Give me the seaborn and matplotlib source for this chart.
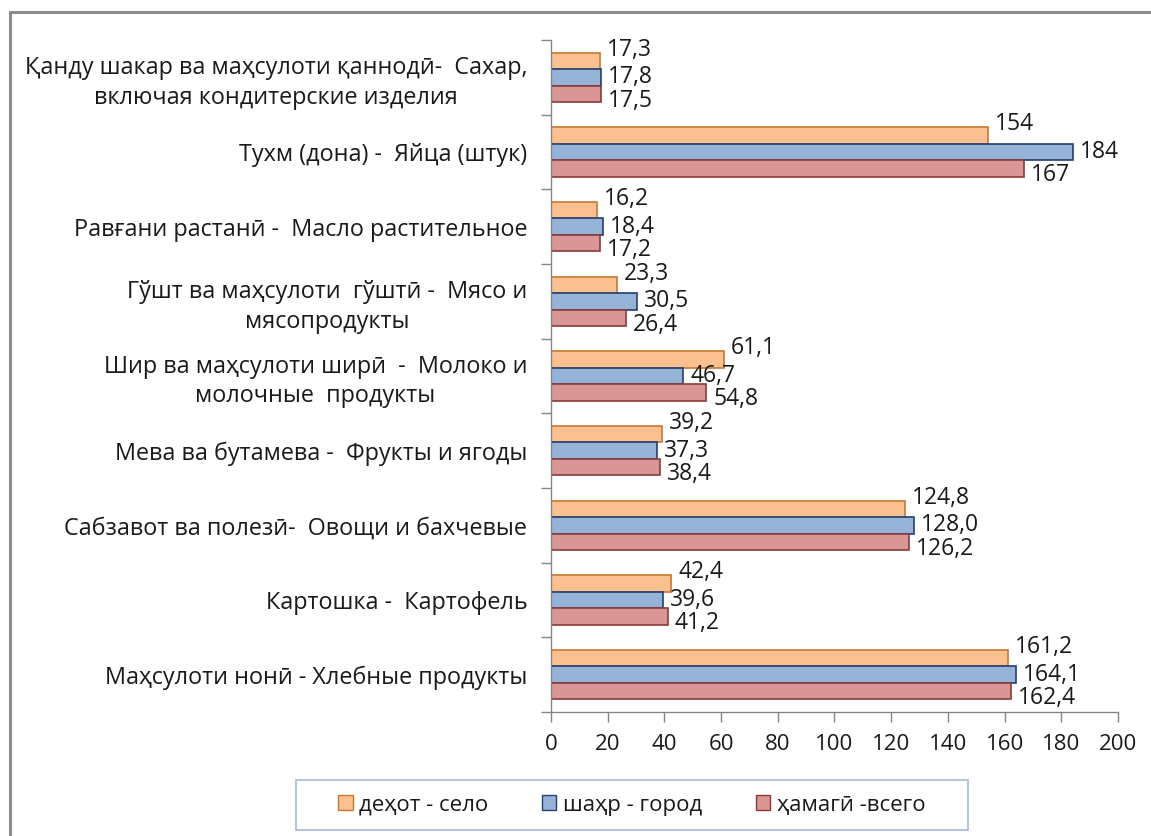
import numpy as np
import pandas as pd
import matplotlib.pyplot as plt
import seaborn as sns
from matplotlib.lines import Line2D
from matplotlib.patches import Patch, Rectangle

# Категории (сверху вниз)
categories = [
    "Қанду шакар ва маҳсулоти қаннодӣ-  Сахар,\nвключая кондитерские изделия",
    "Тухм (дона) -  Яйца (штук)",
    "Равғани растанӣ -  Масло растительное",
    "Гўшт ва маҳсулоти  гўштӣ -  Мясо и\nмясопродукты",
    "Шир ва маҳсулоти ширӣ  -  Молоко и\nмолочные  продукты",
    "Мева ва бутамева -  Фрукты и ягоды",
    "Сабзавот ва полезӣ-  Овощи и бахчевые",
    "Картошка -  Картофель",
    "Маҳсулоти нонӣ - Хлебные продукты",
]
decimals = [1, 0, 1, 1, 1, 1, 1, 1, 1]

series_names = ["деҳот - село", "шаҳр - город", "ҳамагӣ -всего"]
selo = [17.3, 154, 16.2, 23.3, 61.1, 39.2, 124.8, 42.4, 161.2]
gorod = [17.8, 184, 18.4, 30.5, 46.7, 37.3, 128.0, 39.6, 164.1]
vsego = [17.5, 167, 17.2, 26.4, 54.8, 38.4, 126.2, 41.2, 162.4]

fills = ["#FAC090", "#95B3D7", "#D99694"]
edges = ["#C8782E", "#243F73", "#8C3B3A"]
label_dy = [8, 0, -5]  # сдвиг подписей по вертикали (pt)

rows = []
for name, vals in zip(series_names, [selo, gorod, vsego]):
    for c, v in zip(categories, vals):
        rows.append({"cat": c, "series": name, "value": v})
df = pd.DataFrame(rows)

sns.set_theme(style="white")
plt.rcParams["font.family"] = ["Open Sans", "DejaVu Sans"]
plt.rcParams["text.color"] = "#1a1a1a"

fig = plt.figure(figsize=(11.51, 8.36), dpi=100)
ax = fig.add_axes([0.4787, 0.1483, 0.4926, 0.8039])

sns.barplot(data=df, y="cat", x="value", hue="series", order=categories,
            hue_order=series_names, palette=fills, saturation=1, width=0.66,
            errorbar=None, orient="h", legend=False, ax=ax)

for cont, ec, dy in zip(ax.containers, edges, label_dy):
    for i, p in enumerate(cont):
        p.set_edgecolor(ec)
        p.set_linewidth(1.2)
        v = p.get_width()
        txt = f"{v:.{decimals[i]}f}".replace(".", ",")
        ax.annotate(txt, xy=(v, p.get_y() + p.get_height() / 2),
                    xytext=(5, dy), textcoords="offset points",
                    ha="left", va="center", fontsize=16.5, color="#1a1a1a")

ax.set_xlim(0, 200)
ax.set_ylim(8.5, -0.5)
ax.set_xticks(np.arange(0, 201, 20))
ax.set_xticklabels([str(t) for t in range(0, 201, 20)], fontsize=16, color="#1a1a1a")
ax.set_yticks(range(len(categories)))
ax.set_yticklabels(categories, fontsize=16.8, multialignment="center",
                   linespacing=1.3, color="#1a1a1a")
ax.set_yticks(np.arange(-0.5, len(categories), 1), minor=True)
ax.set_xlabel("")
ax.set_ylabel("")

ax.tick_params(axis="y", which="major", length=0, pad=17)
ax.tick_params(axis="y", which="minor", length=7, color="#868686", width=1, direction="out", left=True)
ax.tick_params(axis="x", length=7, color="#868686", width=1, direction="out", bottom=True, pad=9)
for s in ["top", "right"]:
    ax.spines[s].set_visible(False)
for s in ["left", "bottom"]:
    ax.spines[s].set_color("#868686")
    ax.spines[s].set_linewidth(1)

handles = [Patch(facecolor=f, edgecolor=e, label=l) for f, e, l in zip(fills, edges, series_names)]
fig.legend(handles=handles, loc="center", bbox_to_anchor=(0.549, 0.037), ncol=3,
           frameon=False, handlelength=0.65, handleheight=0.65, handletextpad=0.3,
           columnspacing=2.4, fontsize=16)
fig.add_artist(Rectangle((296 / 1151, 1 - 830 / 836), 672 / 1151, 50 / 836,
                         transform=fig.transFigure, fill=False, edgecolor="#A7BBD5", lw=1.2))

# рамка диаграммы
fig.add_artist(Line2D([10 / 1151, 1], [1 - 12 / 836] * 2, transform=fig.transFigure, color="#8c8c8c", lw=2.2))
fig.add_artist(Line2D([10 / 1151] * 2, [0, 1 - 12 / 836], transform=fig.transFigure, color="#8c8c8c", lw=2.2))

fig.savefig("out.png", dpi=100)
